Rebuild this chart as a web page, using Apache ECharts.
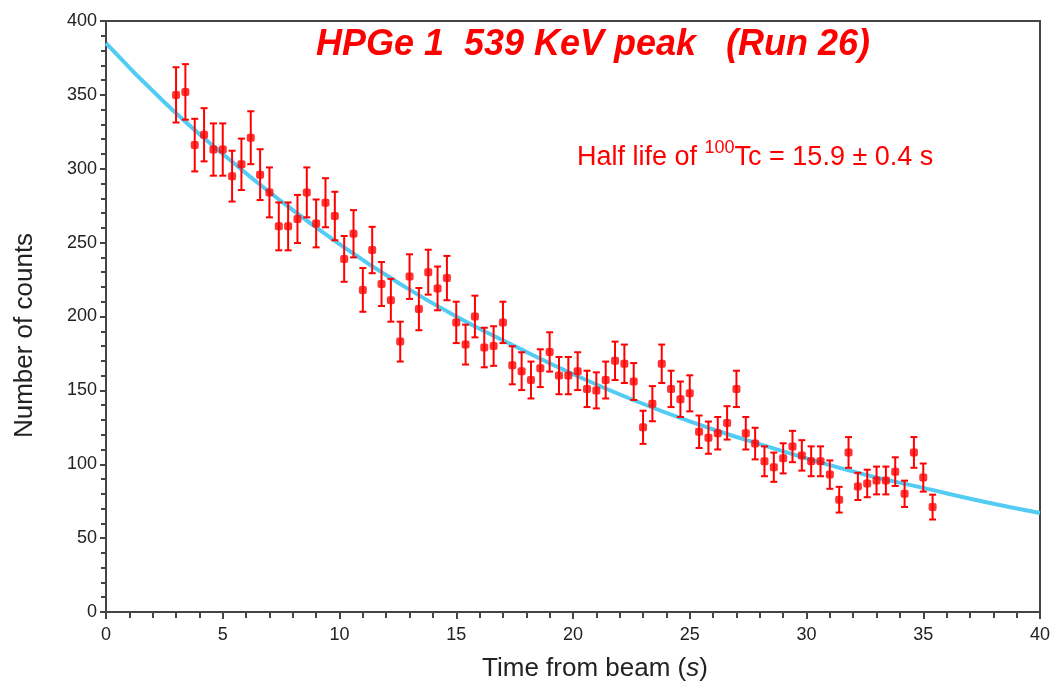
<!DOCTYPE html>
<html>
<head>
<meta charset="utf-8">
<script src="https://cdn.jsdelivr.net/npm/echarts@6/dist/echarts.min.js"></script>
<style>
html,body{margin:0;padding:0;background:#fff;}
#c{width:1055px;height:688px;}
</style>
</head>
<body>
<div id="c"></div>
<script>
// Data: time (s), counts, error (approx sqrt of counts)
var times = [3.0,3.4,3.8,4.2,4.6,5.0,5.4,5.8,6.2,6.6,7.0,7.4,7.8,8.2,8.6,9.0,9.4,9.8,10.2,10.6,
  11.0,11.4,11.8,12.2,12.6,13.0,13.4,13.8,14.2,14.6,15.0,15.4,15.8,16.2,16.6,17.0,17.4,17.8,18.2,18.6,
  19.0,19.4,19.8,20.2,20.6,21.0,21.4,21.8,22.2,22.6,23.0,23.4,23.8,24.2,24.6,25.0,25.4,25.8,26.2,26.6,
  27.0,27.4,27.8,28.2,28.6,29.0,29.4,29.8,30.2,30.6,31.0,31.4,31.8,32.2,32.6,33.0,33.4,33.8,34.2,34.6,
  35.0,35.4];
var counts = [350,352,316,323,313,313,295,303,321,296,284,261,261,266,284,263,277,268,239,256,
  218,245,222,211,183,227,205,230,219,226,196,181,200,179,180,196,167,163,157,165,
  176,160,160,163,151,150,157,170,168,156,125,141,168,151,144,148,122,118,121,128,
  151,121,114,102,98,104,112,106,102,102,93,76,108,85,87,89,89,95,80,108,
  91,71];
var errors = [18.7,18.8,17.8,18.0,17.7,17.7,17.2,17.4,17.9,17.2,16.9,16.2,16.2,16.3,16.9,16.2,16.6,16.4,15.5,16.0,
  14.8,15.7,14.9,14.5,13.5,15.1,14.3,15.2,14.8,15.0,14.0,13.5,14.1,13.4,13.4,14.0,12.9,12.8,12.5,12.8,
  13.3,12.6,12.6,12.8,12.3,12.2,12.5,13.0,13.0,12.5,11.2,11.9,13.0,12.3,12.0,12.2,11.0,10.9,11.0,11.3,
  12.3,11.0,10.7,10.1,9.9,10.2,10.6,10.3,10.1,10.1,9.6,8.7,10.4,9.2,9.3,9.4,9.4,9.7,8.9,10.4,
  9.5,8.4];
// Fitted decay curve samples
var fitTimes = [0,2.5,5,7.5,10,12.5,15,17.5,20,22.5,25,27.5,30,32.5,35,37.5,40];
var fitCounts = [385,345,310,278,249,223,200,180,161,144,129,116,104,93,84,75,67];
var xTicks = [0,5,10,15,20,25,30,35,40];
var yTicks = [0,50,100,150,200,250,300,350,400];

var pts = times.map(function(t,i){return [t,counts[i]];});
var errData = times.map(function(t,i){return [t,counts[i]-errors[i],counts[i]+errors[i]];});
var fitData = fitTimes.map(function(t,i){return [t,fitCounts[i]];});

var chart = echarts.init(document.getElementById('c'));
var FONT = 'Liberation Sans, Arial, Helvetica, sans-serif';
var red = '#ff0000';
chart.setOption({
  animation:false,
  backgroundColor:'#ffffff',
  title:{
    text:'HPGe 1  539 KeV peak   (Run 26)',
    left:588, top:22, textAlign:'center',
    textStyle:{color:red,fontSize:36,fontWeight:'bold',fontStyle:'italic',fontFamily:FONT}
  },
  grid:{left:106,right:15,top:21,bottom:76,show:true,borderColor:'#444',borderWidth:2,backgroundColor:'transparent'},
  xAxis:{
    type:'value',min:0,max:40,interval:5,
    name:'{n|Time from beam (}{i|s}{n|)}',nameLocation:'middle',nameGap:44,
    nameTextStyle:{padding:[0,0,0,44],rich:{n:{fontSize:26,color:'#222',fontFamily:FONT},i:{fontSize:26,color:'#222',fontStyle:'italic',fontFamily:FONT}}},
    axisLine:{show:true,lineStyle:{color:'#444',width:2}},
    axisTick:{show:true,length:7,lineStyle:{color:'#444',width:2}},
    minorTick:{show:true,splitNumber:5,length:6,lineStyle:{color:'#444',width:2}},
    splitLine:{show:false},
    axisLabel:{color:'#222',fontSize:18,fontFamily:FONT,margin:14,
      formatter:function(v){return xTicks.indexOf(v)>=0?String(v):'';}}
  },
  yAxis:{
    type:'value',min:0,max:400,interval:50,
    name:'Number of counts',nameLocation:'middle',nameGap:68,nameRotate:90,
    nameTextStyle:{fontSize:26,color:'#222',fontFamily:FONT,padding:[0,38,0,0]},
    axisLine:{show:true,lineStyle:{color:'#444',width:2}},
    axisTick:{show:true,length:6,lineStyle:{color:'#444',width:2}},
    minorTick:{show:true,splitNumber:5,length:5,lineStyle:{color:'#444',width:2}},
    splitLine:{show:false},
    axisLabel:{color:'#222',fontSize:18,fontFamily:FONT,margin:9,
      formatter:function(v){return yTicks.indexOf(v)>=0?String(v):'';}}
  },
  graphic:[{
    type:'text',left:577,top:139,
    style:{
      text:'{a|Half life of }{s|100}{a|Tc = 15.9 ± 0.4 s}',
      rich:{
        a:{fontSize:27,fill:red,fontFamily:FONT,verticalAlign:'bottom',lineHeight:32},
        s:{fontSize:18,fill:red,fontFamily:FONT,verticalAlign:'top',lineHeight:32,padding:[0,0,12,0]}
      }
    }
  }],
  series:[
    {type:'line',data:fitData,smooth:true,symbol:'none',z:1,
     lineStyle:{color:'#52ccf2',width:4}},
    {type:'custom',z:3,data:errData,
     renderItem:function(params,api){
       var x=api.value(0), lo=api.value(1), hi=api.value(2);
       var p1=api.coord([x,lo]), p2=api.coord([x,hi]);
       var w=3.5;
       var st={stroke:red,lineWidth:2};
       return {type:'group',children:[
         {type:'line',shape:{x1:p1[0],y1:p1[1],x2:p2[0],y2:p2[1]},style:st},
         {type:'line',shape:{x1:p1[0]-w,y1:p1[1],x2:p1[0]+w,y2:p1[1]},style:st},
         {type:'line',shape:{x1:p2[0]-w,y1:p2[1],x2:p2[0]+w,y2:p2[1]},style:st}
       ]};
     }},
    {type:'scatter',data:pts,z:4,symbol:'roundRect',symbolSize:8,
     itemStyle:{color:red}}
  ]
});
</script>
</body>
</html>
